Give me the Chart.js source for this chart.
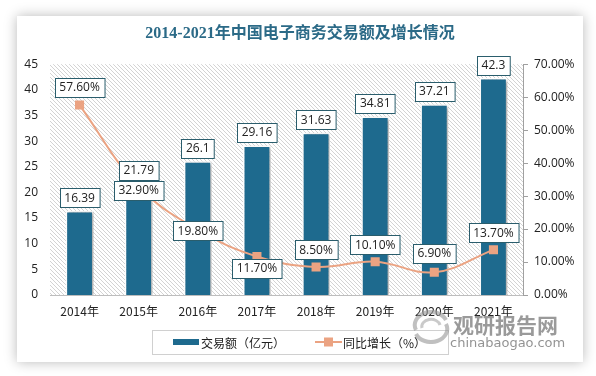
<!DOCTYPE html>
<html><head><meta charset="utf-8">
<script src="https://cdn.jsdelivr.net/npm/chart.js@4/dist/chart.umd.min.js"></script>
<style>
html,body{margin:0;padding:0;background:#fff;width:596px;height:376px;overflow:hidden;}
#card{position:absolute;left:17px;top:16px;width:566px;height:346px;background:#fff;box-shadow:0 0 12px rgba(0,0,0,0.28);}
canvas{display:block}
#wm1{position:absolute;left:453px;top:309px;font:bold 21px 'Noto Sans CJK SC';color:rgba(120,120,120,0.75);letter-spacing:0px;white-space:nowrap;}
#wm2{position:absolute;left:450px;top:335px;font:13px 'DejaVu Sans';color:rgba(120,120,120,0.8);white-space:nowrap;}
#logo{position:absolute;left:410px;top:310px;}
</style></head>
<body>
<div id="card"><canvas id="c" width="566" height="346"></canvas></div>
<svg id="logo" width="42" height="34" viewBox="0 0 42 34">
<path d="M6 20 A15 12 0 0 1 36 10" stroke="rgba(150,150,150,0.6)" stroke-width="4" fill="none"/>
<path d="M36 14 A15 12 0 0 1 6 24" stroke="rgba(150,150,150,0.6)" stroke-width="4" fill="none"/>
<path d="M12 18 A9 7 0 0 1 30 15" stroke="rgba(150,150,150,0.5)" stroke-width="3" fill="none"/>
</svg>
<div id="wm1">观研报告网</div>
<div id="wm2">chinabaogao.com</div>
<script>
const categories = ['2014年','2015年','2016年','2017年','2018年','2019年','2020年','2021年'];
const tradeVolume = [16.39, 21.79, 26.1, 29.16, 31.63, 34.81, 37.21, 42.3];
const growthRate = [57.6, 32.9, 19.8, 11.7, 8.5, 10.1, 6.9, 13.7];
const leftTicks = {min: 0, max: 45, step: 5};
const rightTicks = {min: 0, max: 70, step: 10};
const seriesNames = ['交易额（亿元）', '同比增长（%）'];

const BAR_COLOR = '#1e6a8e';
const LINE_COLOR = '#eba382';
const BOX_BORDER = '#2a5d6c';
const LABEL_FONT = "12px 'Open Sans','Noto Sans CJK SC'";
// label placement for line points: offset of box center from point (px)
const lineLabelOffset = [-18, 4, 1, 12, -17, -17, -19, -17];

function makePattern(){
  const p = document.createElement('canvas');
  p.width = 4; p.height = 4;
  const g = p.getContext('2d');
  g.fillStyle = '#ffffff'; g.fillRect(0,0,4,4);
  g.strokeStyle = 'rgba(175,175,175,0.55)'; g.lineWidth = 1;
  g.beginPath(); g.moveTo(-1,-1); g.lineTo(5,5); g.stroke();
  g.beginPath(); g.moveTo(-1,3); g.lineTo(1,5); g.stroke();
  g.beginPath(); g.moveTo(3,-1); g.lineTo(5,1); g.stroke();
  return g.createPattern(p,'repeat');
}

function drawBox(ctx, text, cx, cy){
  ctx.font = LABEL_FONT;
  const w = ctx.measureText(text).width + 9;
  const h = 19;
  const x = Math.round(cx - w/2) + 0.5, y = Math.round(cy - h/2) + 0.5;
  ctx.fillStyle = '#fff';
  ctx.fillRect(x, y, w, h);
  ctx.strokeStyle = BOX_BORDER; ctx.lineWidth = 1;
  ctx.strokeRect(x, y, w, h);
  ctx.fillStyle = '#222';
  ctx.textAlign = 'center'; ctx.textBaseline = 'middle';
  ctx.fillText(text, cx, cy + 0.5);
}

const bgPlugin = {
  id: 'bg',
  beforeDatasetsDraw(chart){
    const {ctx, chartArea:a} = chart;
    ctx.save();
    ctx.fillStyle = makePattern();
    ctx.fillRect(a.left, a.top, a.right - a.left, a.bottom - a.top);
    ctx.restore();
  },
  beforeDatasetDraw(chart, args){
    if (args.index === 0){
      chart.ctx.save();
      chart.ctx.shadowColor = 'rgba(0,0,0,0.35)';
      chart.ctx.shadowOffsetX = 2; chart.ctx.shadowOffsetY = 1; chart.ctx.shadowBlur = 3;
    }
  },
  afterDatasetDraw(chart, args){
    if (args.index === 0) chart.ctx.restore();
  },
  afterDatasetsDraw(chart){
    const ctx = chart.ctx;
    ctx.save();
    const bars = chart.getDatasetMeta(0).data;
    bars.forEach((b, i) => drawBox(ctx, String(tradeVolume[i]), b.x, b.y - 13));
    const pts = chart.getDatasetMeta(1).data;
    pts.forEach((p, i) => drawBox(ctx, growthRate[i].toFixed(2) + '%', p.x, p.y + lineLabelOffset[i]));
    ctx.restore();
  },
  afterDraw(chart){
    const ctx = chart.ctx;
    ctx.save();
    const cw = chart.width;
    const bx = 135, by = 314, bw = 296, bh = 24;
    ctx.strokeStyle = '#d0d0d0'; ctx.lineWidth = 1;
    ctx.strokeRect(Math.round(cw/2 - bw/2) + 0.5, by + 0.5, bw, bh);
    const cy = by + bh/2;
    ctx.font = "12px 'Noto Sans CJK SC'";
    ctx.textBaseline = 'middle'; ctx.textAlign = 'left';
    ctx.fillStyle = BAR_COLOR;
    ctx.fillRect(156, cy - 3, 26, 6);
    ctx.fillStyle = '#222';
    ctx.fillText(seriesNames[0], 184, cy + 1);
    ctx.strokeStyle = LINE_COLOR; ctx.lineWidth = 2;
    ctx.beginPath(); ctx.moveTo(298, cy); ctx.lineTo(325, cy); ctx.stroke();
    ctx.fillStyle = LINE_COLOR;
    ctx.fillRect(307, cy - 4.5, 9, 9);
    ctx.fillStyle = '#222';
    ctx.fillText(seriesNames[1], 326, cy + 1);
    ctx.restore();
  }
};

new Chart(document.getElementById('c'), {
  data: {
    labels: categories,
    datasets: [
      {
        type: 'bar', label: seriesNames[0], data: tradeVolume, yAxisID: 'y',
        backgroundColor: BAR_COLOR, borderColor: '#ffffff', borderWidth: 1.5,
        categoryPercentage: 1, barPercentage: 0.47, order: 2
      },
      {
        type: 'line', label: seriesNames[1], data: growthRate, yAxisID: 'y1',
        borderColor: LINE_COLOR, borderWidth: 2, tension: 0.4,
        pointStyle: 'rect', pointRadius: 5, pointHoverRadius: 5,
        pointBackgroundColor: LINE_COLOR, pointBorderColor: LINE_COLOR, order: 1
      }
    ]
  },
  options: {
    responsive: false, animation: false, devicePixelRatio: 1,
    layout: {padding: {top: 0, left: 0, right: 0, bottom: 39}},
    plugins: {
      legend: {display: false}, tooltip: {enabled: false},
      title: {
        display: true, text: '2014-2021年中国电子商务交易额及增长情况',
        color: '#2b6a87', font: {family: "'Liberation Serif','Noto Sans CJK SC'", size: 16, weight: 'bold'},
        padding: {top: 8, bottom: 21}
      }
    },
    scales: {
      x: {
        grid: {display: false, drawTicks: false},
        border: {display: true, color: '#bdbdbd'},
        ticks: {color: '#222', font: {family: "'Noto Sans CJK SC'", size: 12}, padding: 9},
        afterFit(s){ s.height = 28; }
      },
      y: {
        position: 'left', min: leftTicks.min, max: leftTicks.max,
        ticks: {stepSize: leftTicks.step, color: '#222', font: {family: "'Open Sans'", size: 12}, padding: 12},
        grid: {display: false, drawTicks: false}, border: {display: false},
        afterFit(s){ s.width = 33; }
      },
      y1: {
        position: 'right', min: rightTicks.min, max: rightTicks.max,
        ticks: {stepSize: rightTicks.step, color: '#222', font: {family: "'Open Sans'", size: 12}, padding: 6,
          callback: v => v.toFixed(2) + '%'},
        grid: {display: true, drawOnChartArea: false, drawTicks: true, tickLength: 5, color: '#a0a0a0'},
        border: {display: true, color: '#a0a0a0'},
        afterFit(s){ s.width = 60; }
      }
    }
  },
  plugins: [bgPlugin]
});
</script>
</body></html>
